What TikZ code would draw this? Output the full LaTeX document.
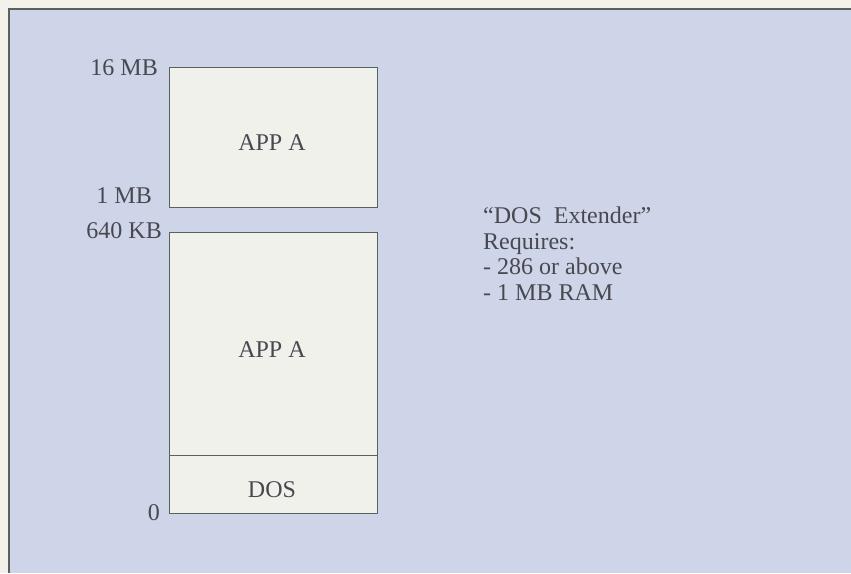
\documentclass[tikz,border=0pt]{standalone}
\usepackage{fontspec}
\setmainfont{Liberation Serif}
\definecolor{paper}{RGB}{243,241,234}
\definecolor{panel}{RGB}{206,213,232}
\definecolor{boxfill}{RGB}{241,241,236}
\definecolor{ink}{RGB}{72,72,80}
\definecolor{edge}{RGB}{88,98,92}
\begin{document}
\begin{tikzpicture}[x=1pt,y=-1pt,
  every node/.style={text=ink,font=\fontsize{24}{25.5}\selectfont,inner sep=0pt},
  membox/.style={draw=edge,line width=1.4pt,fill=boxfill,rectangle,anchor=north west,minimum width=208pt},
  addr/.style={anchor=base east},
  lbl/.style={anchor=base}]
\useasboundingbox (0,0) rectangle (851,573);
\fill[paper] (0,0) rectangle (851,573);
\fill[panel] (9,9) rectangle (851,573);
\draw[edge,line width=1.8pt] (9,573) -- (9,9) -- (851,9);
% memory blocks
\node[membox,minimum height=140pt] (hi) at (169,67) {};
\node[membox,minimum height=223pt] (lo) at (169,232) {};
\node[membox,minimum height=58pt] (dos) at (169,455) {};
% block labels
\node[lbl] (appa1) at (272,150) {APP A};
\node[lbl] (appa2) at (272,357) {APP A};
\node[lbl] (doslbl) at (272,497) {DOS};
% address labels
\node[addr] (a16) at (158,75) {16 MB};
\node[addr] (a1) at (152,203) {1 MB};
\node[addr] (a640) at (162,238) {640 KB};
\node[addr] (a0) at (160,520) {0};
% note (anchored at the baseline of its last line)
\node[anchor=base west,align=left] (note) at (483,300)
  {“DOS\ \ Extender”\\Requires:\\- 286 or above\\- 1 MB RAM};
\end{tikzpicture}
\end{document}
